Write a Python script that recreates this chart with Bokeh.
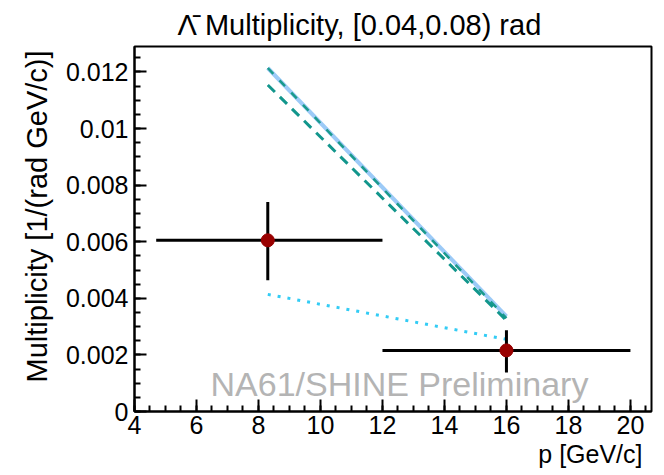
from bokeh.plotting import figure
from bokeh.models import Range1d, Label, FixedTicker, CustomJSTickFormatter, Title
from bokeh.embed import file_html
from bokeh.resources import INLINE

# ---- data ----
p_center = [8.3, 16.0]
p_low = [4.7, 12.0]
p_high = [12.0, 20.0]
mult = [0.00605, 0.00216]
mult_err_low = [0.00464, 0.00138]
mult_err_high = [0.0074, 0.00287]

model_p = [8.3, 16.0]
model_solid = [0.01214, 0.00336]
model_dashdot = [0.01214, 0.00330]
model_dashed = [0.01154, 0.00322]
model_dotted = [0.00414, 0.00255]

x_ticks = [4, 6, 8, 10, 12, 14, 16, 18, 20]
y_ticks = [0, 0.002, 0.004, 0.006, 0.008, 0.01, 0.012]

title_text = "\u039b\u0304 Multiplicity, [0.04,0.08) rad"
x_title = "p [GeV/c]"
y_title = "Multiplicity [1/(rad GeV/c)]"
watermark = "NA61/SHINE Preliminary"

XMIN, XMAX = 4.0, 20.68
YMIN, YMAX = 0.0, 0.0129

FONT = "Liberation Sans"
W, H = 662, 474
BL, BR, BT, BB = 134, 11, 46, 63

p = figure(width=W, height=H, x_range=Range1d(XMIN, XMAX), y_range=Range1d(YMIN, YMAX),
           output_backend="svg", toolbar_location=None,
           min_border_left=BL, min_border_right=BR, min_border_top=BT, min_border_bottom=BB)
p.grid.visible = False
p.outline_line_color = "black"
p.outline_line_width = 2
p.background_fill_color = "white"
p.border_fill_color = "white"

fw = W - BL - BR
fh = H - BT - BB


def dx(px):
    return XMIN + (px - BL) / fw * (XMAX - XMIN)


def dy(py):
    return YMIN + (BT + fh - py) / fh * (YMAX - YMIN)


minor_x = [4 + 0.5 * i for i in range(0, 34) if (4 + 0.5 * i) <= XMAX]
minor_y = [0.0005 * i for i in range(0, 26)]
p.xaxis.ticker = FixedTicker(ticks=x_ticks, minor_ticks=minor_x)
p.yaxis.ticker = FixedTicker(ticks=y_ticks, minor_ticks=minor_y)
p.yaxis.formatter = CustomJSTickFormatter(code="""
var s = tick.toFixed(3);
s = s.replace(/0+$/, '').replace(/\\.$/, '');
return s;
""")
for ax in (p.xaxis, p.yaxis):
    ax.major_tick_in = 12
    ax.major_tick_out = 0
    ax.minor_tick_in = 6
    ax.minor_tick_out = 0
    ax.major_tick_line_width = 2
    ax.minor_tick_line_width = 2
    ax.axis_line_width = 2
    ax.major_label_text_font = FONT
    ax.major_label_text_font_size = "25px"
    ax.major_label_text_color = "black"
p.xaxis.major_label_standoff = 4
p.yaxis.major_label_standoff = 6

# model curves
p.line(model_p, model_solid, line_color="#9ccaf7", line_width=4)
p.line(model_p, model_dashdot, line_color="#1a9a8c", line_width=2.5, line_dash="8 9")
p.line(model_p, model_dashed, line_color="#12968c", line_width=3, line_dash="10 7")
p.line(model_p, model_dotted, line_color="#33ccf5", line_width=3, line_dash="3 7")

# data points
p.segment(x0=p_low, y0=mult, x1=p_high, y1=mult, line_color="black", line_width=3)
p.segment(x0=p_center, y0=mult_err_low, x1=p_center, y1=mult_err_high, line_color="black", line_width=3)
p.scatter(p_center, mult, size=13, fill_color="#990000", line_color="#990000")

# watermark (inside frame)
p.add_layout(Label(x=dx(210), y=dy(383), text=watermark, text_font=FONT, text_font_size="34px",
                   text_color="#b4b4b4", text_align="left", text_baseline="middle"))

# title
p.title = Title(text=title_text, text_font=FONT, text_font_size="29px",
                text_font_style="normal", text_color="black", align="left", offset=43, standoff=12)

# axis titles as panel titles
p.add_layout(Title(text=x_title, text_font=FONT, text_font_size="25px", text_font_style="normal",
                   text_color="black", align="right", offset=9, standoff=2), "below")
p.add_layout(Title(text=y_title, text_font=FONT, text_font_size="29px", text_font_style="normal",
                   text_color="black", align="right", offset=4, standoff=20), "left")

open("out.html", "w").write(file_html(p, INLINE))
